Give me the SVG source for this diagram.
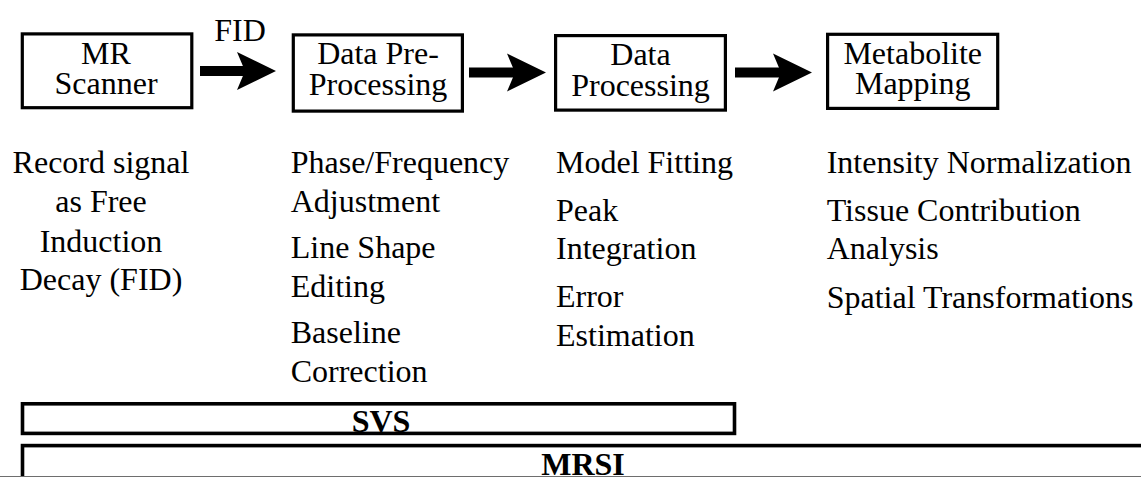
<svg xmlns="http://www.w3.org/2000/svg" width="1141" height="477" viewBox="0 0 1141 477">
  <style>
    .box { fill: #ffffff; stroke: #000000; stroke-width: 3.2; }
    .band { fill: none; stroke: #000000; stroke-width: 3.6; }
    text { font-family: 'Liberation Serif', 'Times New Roman', serif; font-size: 32px; fill: #000000; }
    .c { text-anchor: middle; }
    .b { font-weight: bold; }
    .shaft { fill: none; stroke: #000000; stroke-width: 10; marker-end: url(#head); }
  </style>
  <defs>
    <!-- swept-back block arrowhead; refX sits at the notch so the shaft ends inside the head -->
    <marker id="head" markerUnits="userSpaceOnUse" markerWidth="40" markerHeight="40" refX="8" refY="19" orient="auto" overflow="visible">
      <path d="M0,0 L39,19 L0,38 L8,19 Z" fill="#000000"/>
    </marker>
  </defs>

  <rect width="1141" height="477" fill="#ffffff"/>

  <!-- pipeline stages -->
  <g id="mr-scanner">
    <rect class="box" x="22.3" y="33.9" width="169.5" height="73.8"/>
    <text class="c" x="106" y="64">MR</text>
    <text class="c" x="106" y="94">Scanner</text>
  </g>
  <g id="pre-processing">
    <rect class="box" x="293.3" y="34.9" width="169.1" height="76.2"/>
    <text class="c" x="378" y="64">Data Pre-</text>
    <text class="c" x="378" y="95">Processing</text>
  </g>
  <g id="processing">
    <rect class="box" x="555.6" y="35.6" width="169.8" height="74.5"/>
    <text class="c" x="640.5" y="65">Data</text>
    <text class="c" x="640.5" y="95.5">Processing</text>
  </g>
  <g id="metabolite-mapping">
    <rect class="box" x="827.6" y="34.3" width="170.1" height="74.1"/>
    <text class="c" x="912.7" y="63.5">Metabolite</text>
    <text class="c" x="912.7" y="94">Mapping</text>
  </g>

  <!-- connectors -->
  <g id="connectors">
    <path class="shaft" d="M200,71 L245,71"/>
    <path class="shaft" d="M469,72.5 L515,72.5"/>
    <path class="shaft" d="M735,72.5 L781,72.5"/>
    <text class="c" x="240" y="41">FID</text>
  </g>

  <!-- stage descriptions -->
  <g id="desc-scanner">
    <text class="c" x="101" y="173">Record signal</text>
    <text class="c" x="101" y="212">as Free</text>
    <text class="c" x="101" y="251.5">Induction</text>
    <text class="c" x="101" y="290">Decay (FID)</text>
  </g>
  <g id="desc-pre-processing">
    <text x="290.7" y="173">Phase/Frequency</text>
    <text x="290.7" y="212">Adjustment</text>
    <text x="290.7" y="258">Line Shape</text>
    <text x="290.7" y="297">Editing</text>
    <text x="290.7" y="343">Baseline</text>
    <text x="290.7" y="382">Correction</text>
  </g>
  <g id="desc-processing">
    <text x="556" y="173">Model Fitting</text>
    <text x="556" y="220.5">Peak</text>
    <text x="556" y="259">Integration</text>
    <text x="556" y="306.5">Error</text>
    <text x="556" y="345.5">Estimation</text>
  </g>
  <g id="desc-mapping">
    <text x="826.7" y="173">Intensity Normalization</text>
    <text x="826.7" y="221">Tissue Contribution</text>
    <text x="826.7" y="259">Analysis</text>
    <text x="826.7" y="308">Spatial Transformations</text>
  </g>

  <!-- acquisition scope bands -->
  <g id="svs">
    <rect class="band" x="22.5" y="403.8" width="712" height="29.6"/>
    <text class="c b" x="381" y="431.5">SVS</text>
  </g>
  <g id="mrsi">
    <rect class="band" x="22.5" y="445.6" width="1200" height="60"/>
    <text class="c b" x="583" y="474.5">MRSI</text>
  </g>
  <line x1="0" y1="476.5" x2="1141" y2="476.5" stroke="#6e6e6e" stroke-width="1"/>
</svg>
